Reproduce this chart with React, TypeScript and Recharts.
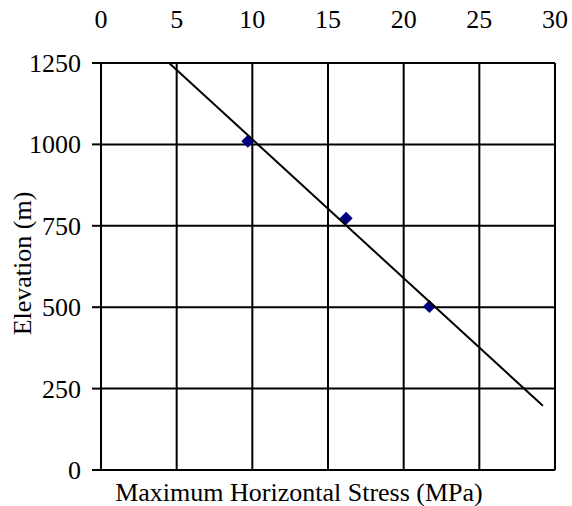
import React from 'react';
import { ComposedChart, Scatter, XAxis, YAxis, CartesianGrid, Label } from 'recharts';

const stress = [9.7, 16.2, 21.7];
const elevation = [1010, 773, 502];
const trendStress = [4.5, 29.2];
const trendElevation = [1250, 197];
const xTicks = [0, 5, 10, 15, 20, 25, 30];
const yTicks = [0, 250, 500, 750, 1000, 1250];

const points = stress.map((x, i) => ({ x, y: elevation[i] }));
const trend = trendStress.map((x, i) => ({ x, y: trendElevation[i] }));

const FONT = 'Liberation Serif, Tinos, Times New Roman, serif';
const SIZE = 26;

const Diamond = (props: any) => {
  const { cx, cy } = props;
  const r = 6.5;
  return <polygon points={`${cx},${cy - r} ${cx + r},${cy} ${cx},${cy + r} ${cx - r},${cy}`} fill="#000080" />;
};

const NoDot = () => <g />;

const TopTick = (props: any) => {
  const { x, y, payload } = props;
  return (
    <text x={x} y={y} textAnchor="middle" fill="#000" fontSize={SIZE} fontFamily={FONT}>
      {payload.value}
    </text>
  );
};

const LeftTick = (props: any) => {
  const { x, y, payload } = props;
  return (
    <text x={x} y={y} dy={9} textAnchor="end" fill="#000" fontSize={SIZE} fontFamily={FONT}>
      {payload.value}
    </text>
  );
};

export default function App() {
  return (
    <div style={{ position: 'absolute', left: 0, top: 0 }}>
      <ComposedChart width={572} height={506} margin={{ top: 0, right: 17, bottom: 0, left: 0 }}>
        <CartesianGrid
          xAxisId="top"
          stroke="#000"
          strokeWidth={2}
          horizontalValues={yTicks}
          verticalValues={xTicks}
        />
        <XAxis
          xAxisId="top"
          orientation="top"
          type="number"
          dataKey="x"
          domain={[0, 30]}
          ticks={xTicks}
          height={63}
          axisLine={false}
          tickLine={false}
          tickSize={0}
          tickMargin={35}
          tick={<TopTick />}
        />
        <XAxis
          xAxisId="bottom"
          orientation="bottom"
          type="number"
          dataKey="x"
          domain={[0, 30]}
          height={36}
          axisLine={false}
          tickLine={false}
          tick={false}
        >
          <Label
            value="Maximum Horizontal Stress (MPa)"
            position="center"
            dx={-29}
            dy={4}
            style={{ fill: '#000', fontSize: SIZE, fontFamily: FONT }}
          />
        </XAxis>
        <YAxis
          type="number"
          dataKey="y"
          domain={[0, 1250]}
          ticks={yTicks}
          width={101}
          axisLine={false}
          tickLine={{ stroke: '#000', strokeWidth: 2 }}
          tickSize={9}
          tickMargin={11}
          tick={<LeftTick />}
        >
          <Label
            value="Elevation (m)"
            angle={-90}
            position="center"
            dx={-29}
            dy={-3}
            style={{ fill: '#000', fontSize: SIZE, fontFamily: FONT, textAnchor: 'middle' }}
          />
        </YAxis>
        <Scatter xAxisId="top" data={points} shape={<Diamond />} isAnimationActive={false} />
        <Scatter
          xAxisId="top"
          data={trend}
          line={{ stroke: '#000', strokeWidth: 2 }}
          shape={<NoDot />}
          isAnimationActive={false}
        />
      </ComposedChart>
    </div>
  );
}
